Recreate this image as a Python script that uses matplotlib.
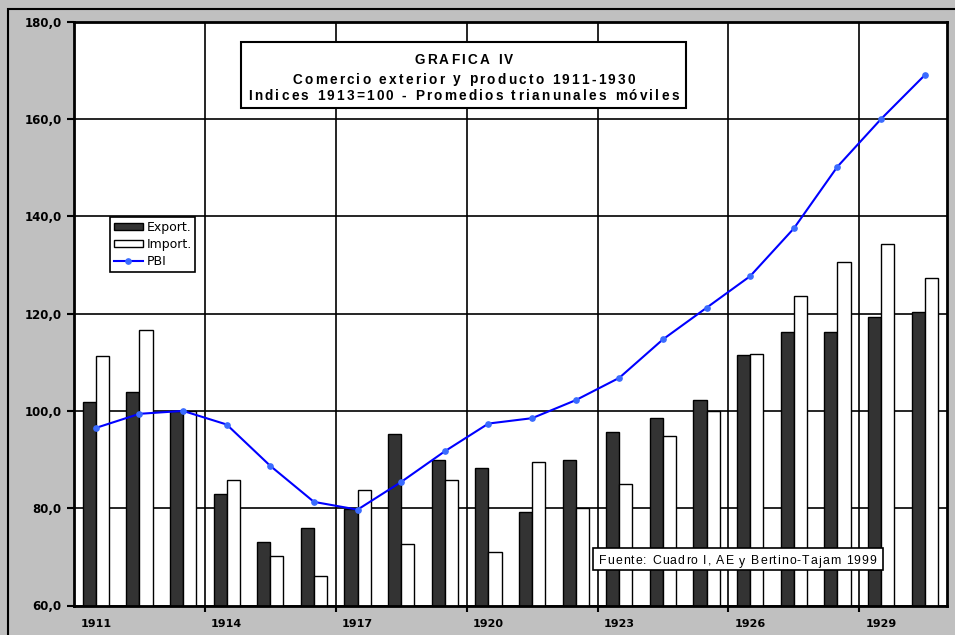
"""Grafica IV: comercio exterior y producto 1911-1930."""

import matplotlib

matplotlib.use("Agg")

import matplotlib.pyplot as plt
import numpy as np
from matplotlib.font_manager import FontProperties
from matplotlib.patches import Rectangle
from matplotlib.textpath import TextToPath

years = list(range(1911, 1931))
export_idx = [101.8, 103.9, 100.0, 83.0, 73.0, 75.9, 79.8, 95.2, 89.9, 88.2,
              79.2, 89.9, 95.7, 98.5, 102.2, 111.4, 116.2, 116.2, 119.2, 120.3]
import_idx = [111.2, 116.6, 100.0, 85.7, 70.1, 66.0, 83.7, 72.6, 85.8, 71.0,
              89.5, 80.0, 85.0, 94.8, 100.0, 111.7, 123.6, 130.6, 134.3, 127.3]
pbi_idx = [96.5, 99.4, 100.0, 97.2, 88.7, 81.3, 79.7, 85.4, 91.7, 97.4,
           98.5, 102.2, 106.8, 114.7, 121.2, 127.7, 137.5, 150.2, 160.0, 169.0]
y_ticks = [60, 80, 100, 120, 140, 160, 180]
title_lines = [
    "GRAFICA IV",
    "Comercio exterior y producto 1911-1930",
    "Indices 1913=100 - Promedios trianunales móviles",
]
source_note = "Fuente: Cuadro I, AE y Bertino-Tajam 1999"

plt.rcParams["font.family"] = ["DejaVu Sans"]

W, H = 955, 635
DPI = 100
fig = plt.figure(figsize=(W / DPI, H / DPI), dpi=DPI, facecolor="#c0c0c0")

_t2p = TextToPath()


def fx(px):
    return px / W


def fy(py):
    return 1 - py / H


def advances(s, prop):
    """Horizontal advance of each character, in pixels."""
    bars, _, _ = _t2p.get_text_width_height_descent("||", prop, ismath=False)
    out = []
    for ch in s:
        w, _, _ = _t2p.get_text_width_height_descent("|" + ch + "|", prop,
                                                     ismath=False)
        out.append((w - bars) * DPI / 72)
    return out


def spaced_text(s, x_px, base_px, prop, tracking, ha="center"):
    """Draw a string with extra letter spacing (pixels between glyphs)."""
    adv = advances(s, prop)
    total = sum(adv) + tracking * (len(s) - 1)
    pen = x_px - total / 2 if ha == "center" else x_px
    for ch, a in zip(s, adv):
        if ch != " ":
            fig.text(fx(pen), fy(base_px), ch, fontproperties=prop,
                     ha="left", va="baseline", zorder=7)
        pen += a + tracking


# outer frame of the chart area
fig.patches.append(Rectangle((fx(8), -0.1), 1.2, fy(9) + 0.1,
                             transform=fig.transFigure, fill=False,
                             edgecolor="black", linewidth=1.5, zorder=0))

ax = fig.add_axes([fx(74), fy(605.5), fx(946.5) - fx(74), fy(21.7) - fy(605.5)])
ax.set_facecolor("white")

x = np.arange(len(years))
bw = 0.3
h_exp = ax.bar(x - bw / 2, np.array(export_idx) - 60, bw, bottom=60,
               color="#333333", edgecolor="black", linewidth=1.0, zorder=2)
h_imp = ax.bar(x + bw / 2, np.array(import_idx) - 60, bw, bottom=60,
               color="white", edgecolor="black", linewidth=1.0, zorder=2)
h_pbi, = ax.plot(x, pbi_idx, color="#0000ff", linewidth=1.5, marker="o",
                 markersize=3.8, markerfacecolor="#3a6bff",
                 markeredgecolor="#3a6bff", zorder=4)

ax.set_xlim(-0.5, len(years) - 0.5)
ax.set_ylim(60, 180)

# vertical grid at every third category boundary, labels centred on categories
ax.set_xticks(np.arange(2.5, len(years) - 1, 3))
ax.set_xticklabels([])
ax.set_xticks(np.arange(0, len(years), 3), minor=True)
ax.set_xticklabels([str(y) for y in years[::3]], minor=True,
                   fontsize=8, fontweight="bold")
ax.tick_params(axis="x", which="major", direction="out", length=4, width=1.5)
ax.tick_params(axis="x", which="minor", length=0, pad=10)

ax.set_yticks(y_ticks)
ax.set_yticklabels([f"{v:.1f}".replace(".", ",") for v in y_ticks],
                   fontsize=8.5, fontweight="bold")
ax.tick_params(axis="y", direction="out", length=5, width=1.5, pad=4)

ax.grid(True, which="major", color="black", linewidth=1.2, zorder=1)
ax.set_axisbelow(True)
for spine in ax.spines.values():
    spine.set_linewidth(2.0)
    spine.set_zorder(5)

leg = ax.legend([h_exp, h_imp, h_pbi], ["Export.", "Import.", "PBI"],
                loc="upper left", bbox_to_anchor=(fx(110), fy(217)),
                bbox_transform=fig.transFigure, borderaxespad=0,
                fancybox=False, edgecolor="black", framealpha=1,
                fontsize=9, handlelength=2.3, handleheight=0.55,
                handletextpad=0.3, labelspacing=0.35, borderpad=0.3)
leg.get_frame().set_linewidth(1.2)
leg.set_zorder(6)

# title block
fig.patches.append(Rectangle((fx(241), fy(107.5)), fx(686) - fx(241),
                             fy(42) - fy(107.5), transform=fig.transFigure,
                             facecolor="white", edgecolor="black",
                             linewidth=1.5, zorder=6))
title_prop = FontProperties(family="Liberation Sans", weight="bold", size=9.8)
for line, base in zip(title_lines, [64, 83.5, 99.5]):
    spaced_text(line, 463.5, base, title_prop, tracking=2.25)

# source note
fig.patches.append(Rectangle((fx(593), fy(570)), fx(883) - fx(593),
                             fy(548) - fy(570), transform=fig.transFigure,
                             facecolor="white", edgecolor="black",
                             linewidth=1.2, zorder=6))
note_prop = FontProperties(family="Liberation Sans", size=8.8)
spaced_text(source_note, 599, 564.5, note_prop, tracking=1.05, ha="left")

fig.savefig("out.png", dpi=DPI, facecolor=fig.get_facecolor())
plt.close(fig)
